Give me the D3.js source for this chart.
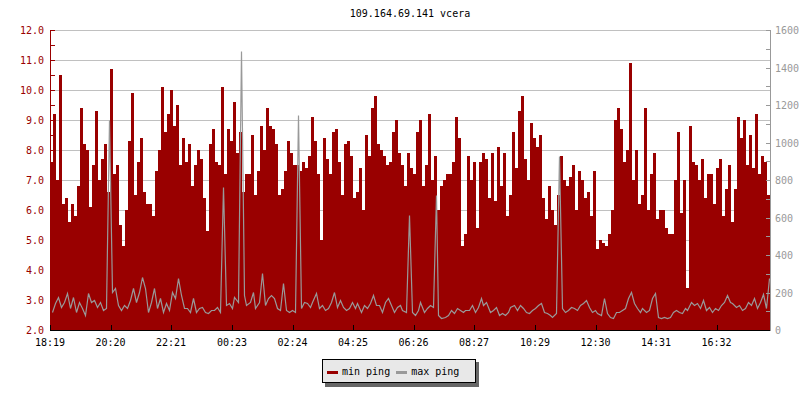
<!DOCTYPE html>
<html><head><meta charset="utf-8">
<script src="https://cdn.jsdelivr.net/npm/d3@7"></script>
<style>
body{margin:0;background:#fff}
svg{display:block}
text{font-family:"DejaVu Sans Mono",monospace;font-size:10px}
</style>
</head><body><svg id="c" width="800" height="400"></svg>
<script>
const chartTitle = "109.164.69.141 vcera";
const startLabel = "18:19";
const stepMinutes = 6;
const tickLabels = ["18:19","20:20","22:21","00:23","02:24","04:25","06:26","08:27","10:29","12:30","14:31","16:32"];
const leftTicks = [2,3,4,5,6,7,8,9,10,11,12];
const rightTicks = [0,200,400,600,800,1000,1200,1400,1600];
const seriesNames = ["min ping","max ping"];
const minPing = [
7.6,9.2,7.0,10.5,6.2,6.4,5.6,6.2,5.8,6.8,
9.4,8.2,8.0,6.1,7.5,9.3,7.0,7.7,8.2,6.6,
10.7,7.2,7.5,5.5,4.8,6.0,8.3,9.9,6.5,7.6,
8.4,6.6,6.2,6.2,5.8,7.3,8.0,10.1,8.6,9.2,
10.0,8.8,9.5,7.5,8.4,7.6,8.2,6.8,7.5,8.0,
7.7,6.4,5.3,8.2,8.7,7.6,7.5,10.1,7.2,8.7,
8.3,9.6,7.9,8.6,6.6,7.2,7.2,8.5,6.5,7.3,
8.8,8.0,9.4,8.8,8.7,8.2,6.5,6.7,7.3,8.3,
7.9,7.5,7.5,7.3,7.6,7.4,7.8,9.1,8.3,7.2,
5.0,8.4,7.7,7.2,8.6,8.7,7.6,6.5,8.2,8.3,
7.8,6.4,6.6,7.4,6.0,8.5,7.8,9.4,9.8,8.2,
8.0,7.8,7.5,7.6,8.6,9.0,7.9,7.5,6.8,7.9,
7.4,7.2,8.6,9.0,6.8,7.5,9.2,7.0,7.8,6.0,
6.8,7.0,7.2,7.2,7.6,9.1,8.4,4.8,5.2,7.8,
7.0,7.6,5.4,7.6,7.9,7.7,6.4,7.9,6.3,8.1,
6.8,7.9,5.8,6.5,8.6,7.4,9.3,9.8,7.7,7.0,
8.9,8.4,8.1,8.5,6.4,5.7,6.8,6.0,5.5,6.5,
7.8,7.0,6.8,7.1,7.5,6.0,7.3,7.0,6.4,6.6,
5.8,7.3,4.7,5.0,4.9,4.8,5.2,6.0,9.0,9.4,
8.7,7.6,8.0,10.9,7.0,8.0,6.2,6.5,9.4,6.0,
7.2,7.9,5.7,6.0,6.0,5.4,5.2,5.2,7.0,8.6,
5.9,7.0,3.4,8.8,7.6,7.5,7.0,7.7,6.4,7.2,
7.2,6.2,7.4,7.7,5.8,6.7,7.5,5.6,6.7,9.1,
8.4,9.0,7.5,8.5,7.4,9.2,7.2,7.8,7.6,6.5
];
const maxPing = [
98,142,178,124,150,195,115,178,98,150,
115,80,195,150,160,124,150,107,115,1120,
205,222,133,107,133,115,160,222,150,205,
284,222,98,150,222,115,170,98,142,107,
205,170,275,187,115,115,98,170,98,115,
124,98,89,107,107,124,98,765,133,142,
115,178,150,1488,187,133,150,205,115,150,
302,133,170,187,170,115,107,249,107,98,
107,98,1147,115,150,142,124,150,195,115,
133,107,115,150,205,124,160,124,107,115,
150,115,142,98,133,115,142,187,133,133,
98,150,170,133,98,124,133,107,98,613,
98,80,107,150,98,115,133,124,720,80,
62,71,80,107,89,115,107,98,107,107,
133,98,124,170,133,150,98,107,124,80,
89,80,98,124,133,107,133,115,98,89,
107,115,133,142,98,89,80,71,89,928,
115,98,107,124,115,107,133,142,160,124,
98,107,89,80,170,89,71,62,98,98,
107,115,170,205,142,115,98,115,98,107,
170,195,71,62,71,62,71,98,107,98,
89,115,107,150,133,142,115,160,107,124,
98,115,107,133,150,187,150,142,124,133,
107,115,150,133,170,115,150,190,115,275
];

const RED = "#990000", GRAY = "#999999";
const svg = d3.select("#c");
const L = 50, R = 770, T = 30, B = 330;

const [sh, sm] = startLabel.split(":").map(Number);
const t0 = new Date(2020, 0, 1, sh, sm);
const minute = 60000;
const t1 = new Date(+t0 + 1440 * minute);
const x = d3.scaleTime().domain([t0, t1]).range([L, R]);
const yL = d3.scaleLinear().domain([2, 12]).range([B, T]);
const yR = d3.scaleLinear().domain([0, 1600]).range([B, T]);

const times = minPing.map((d, i) => new Date(+t0 + i * stepMinutes * minute));
const tickTimes = tickLabels.map(lbl => {
  const [h, m] = lbl.split(":").map(Number);
  let d = new Date(2020, 0, 1, h, m);
  if (d < t0) d = new Date(+d + 1440 * minute);
  return d;
});

// title
svg.append("text").attr("x", (L + R) / 2).attr("y", 17).attr("text-anchor", "middle")
  .attr("fill", "#000").text(chartTitle);

// gridlines
svg.append("g").attr("shape-rendering", "crispEdges").selectAll("line").data(leftTicks.filter(v => v > 2)).join("line")
  .attr("x1", L).attr("x2", R).attr("y1", d => Math.round(yL(d)) + 0.5).attr("y2", d => Math.round(yL(d)) + 0.5)
  .attr("stroke", "#c0c0c0").attr("stroke-width", 1);

// min ping bars
svg.append("g").attr("shape-rendering", "crispEdges").selectAll("rect").data(minPing).join("rect")
  .attr("x", (d, i) => x(times[i]))
  .attr("width", (d, i) => x(new Date(+times[i] + stepMinutes * minute)) - x(times[i]))
  .attr("y", d => yL(d)).attr("height", d => B - yL(d))
  .attr("fill", RED);

// max ping line
const half = stepMinutes * minute / 2;
svg.append("path").datum(maxPing)
  .attr("d", d3.line().x((d, i) => Math.round(x(new Date(+times[i] + half))) + 0.5).y(d => Math.round(yR(d)) + 0.5))
  .attr("fill", "none").attr("stroke", GRAY).attr("stroke-width", 1.2);

// left axis
const gl = svg.append("g").attr("shape-rendering", "crispEdges");
gl.append("line").attr("x1", L + 0.5).attr("x2", L + 0.5).attr("y1", T).attr("y2", B).attr("stroke", RED);
gl.selectAll("line.t").data(d3.range(2, 12.01, 0.5)).join("line").attr("class", "t")
  .attr("x1", L).attr("x2", L + 5).attr("y1", d => Math.round(yL(d)) + 0.5).attr("y2", d => Math.round(yL(d)) + 0.5)
  .attr("stroke", RED);
svg.append("g").selectAll("text").data(leftTicks).join("text")
  .attr("x", 44).attr("y", d => yL(d) + 4).attr("text-anchor", "end").attr("fill", RED)
  .text(d => d3.format(".1f")(d));

// right axis
const gr = svg.append("g").attr("shape-rendering", "crispEdges");
gr.append("line").attr("x1", R + 0.5).attr("x2", R + 0.5).attr("y1", T).attr("y2", B + 1).attr("stroke", GRAY);
gr.selectAll("line.t").data(d3.range(0, 1601, 100)).join("line").attr("class", "t")
  .attr("x1", R - 4).attr("x2", R).attr("y1", d => Math.round(yR(d)) + 0.5).attr("y2", d => Math.round(yR(d)) + 0.5)
  .attr("stroke", GRAY);
svg.append("g").selectAll("text").data(rightTicks).join("text")
  .attr("x", R + 5).attr("y", d => yR(d) + 4).attr("fill", GRAY).text(d => d);

// bottom axis
const gb = svg.append("g").attr("shape-rendering", "crispEdges");
gb.append("line").attr("x1", L).attr("x2", R).attr("y1", B + 0.5).attr("y2", B + 0.5).attr("stroke", "#000");
gb.selectAll("line.t").data(tickTimes).join("line").attr("class", "t")
  .attr("x1", d => Math.round(x(d)) + 0.5).attr("x2", d => Math.round(x(d)) + 0.5).attr("y1", B - 5).attr("y2", B)
  .attr("stroke", "#000");
svg.append("g").selectAll("text").data(tickTimes).join("text")
  .attr("x", d => x(d)).attr("y", 346).attr("text-anchor", "middle").attr("fill", "#000")
  .text((d, i) => tickLabels[i]);

// legend
const lg = svg.append("g").attr("shape-rendering", "crispEdges");
lg.append("rect").attr("x", 325).attr("y", 362).attr("width", 154).attr("height", 25).attr("fill", "#666");
lg.append("rect").attr("x", 322.5).attr("y", 359.5).attr("width", 153).attr("height", 23).attr("fill", "#e8e8e8").attr("stroke", "#000");
const colors = [RED, GRAY];
let lx = 327;
seriesNames.forEach((n, i) => {
  lg.append("line").attr("x1", lx).attr("x2", lx + 11).attr("y1", 372).attr("y2", 372)
    .attr("stroke", colors[i]).attr("stroke-width", 3);
  const t = lg.append("text").attr("x", lx + 15).attr("y", 375).attr("fill", "#000").text(n);
  lx = lx + 15 + t.node().getComputedTextLength() + 6;
});
</script>
</body></html>
